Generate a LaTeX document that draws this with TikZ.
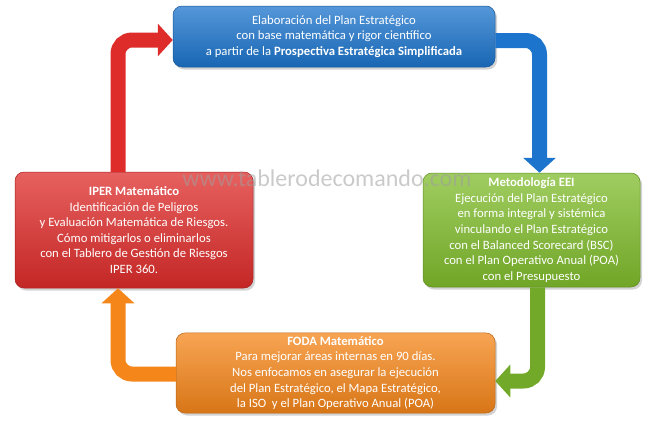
\documentclass[tikz,border=0pt]{standalone}
\usepackage{fontspec}
\setmainfont{Carlito}
\usetikzlibrary{arrows.meta,shadows}

\definecolor{azul}{HTML}{1C74CC}
\definecolor{rojo}{HTML}{DE2C2A}
\definecolor{verde}{HTML}{80BC2C}
\definecolor{naranja}{HTML}{F5861A}

\begin{document}
\begin{tikzpicture}[x=1pt,y=-1pt,
    caja/.style={rounded corners=9pt, text=white, align=center,
        font=\fontsize{12.7}{15.6}\selectfont,
        draw=#1!75!black, line width=0.5pt,
        top color=#1!75!white, bottom color=#1!88!black,
        drop shadow={shadow xshift=2pt, shadow yshift=-2.5pt, opacity=0.35}},
    flecha/.style={draw=#1, line width=15pt, rounded corners=14pt,
        -{Triangle[width=32pt,length=15pt]}}]
    \useasboundingbox (0,0) rectangle (650,423);

    % cajas
    \node[caja=azul, minimum width=322pt, minimum height=61pt] (plan) at (334,36.5)
        {Elaboración del Plan Estratégico\\
         con base matemática y rigor científico\\
         a partir de la \textbf{Prospectiva Estratégica Simplificada}};
    \node[caja=verde, minimum width=217pt, minimum height=114pt] (eei) at (531.5,230)
        {\textbf{Metodología EEI}\\
         Ejecución del Plan Estratégico\\
         en forma integral y sistémica\\
         vinculando el Plan Estratégico\\
         con el Balanced Scorecard (BSC)\\
         con el Plan Operativo Anual (POA)\\
         con el Presupuesto};
    \node[caja=naranja, minimum width=319pt, minimum height=80pt] (foda) at (335.5,373)
        {\textbf{FODA Matemático}\\
         Para mejorar áreas internas en 90 días.\\
         Nos enfocamos en asegurar la ejecución\\
         del Plan Estratégico, el Mapa Estratégico,\\
         la ISO\ \ y el Plan Operativo Anual (POA)};
    \node[caja=rojo, minimum width=238pt, minimum height=116pt] (iper) at (134,230)
        {\textbf{IPER Matemático}\\
         Identificación de Peligros\\
         y Evaluación Matemática de Riesgos.\\
         Cómo mitigarlos o eliminarlos\\
         con el Tablero de Gestión de Riesgos\\
         IPER 360.};

    % flechas del ciclo
    \draw[flecha=azul] ([yshift=-4pt]plan.east) -| ([xshift=8pt]eei.north);
    \draw[flecha=verde!90!black] ([xshift=6pt]eei.south) |- ([yshift=-8pt]foda.east);
    \draw[flecha=naranja] ([yshift=-1pt]foda.west) -| ([xshift=-16pt]iper.south);
    \draw[flecha=rojo] ([xshift=-16pt]iper.north) |- ([yshift=-3.5pt]plan.west);

    % marca de agua
    \node[font=\fontsize{24}{24}\selectfont, text=gray!75, text opacity=0.55] (marca)
        at (327,178) {www.tablerodecomando.com};
\end{tikzpicture}
\end{document}
